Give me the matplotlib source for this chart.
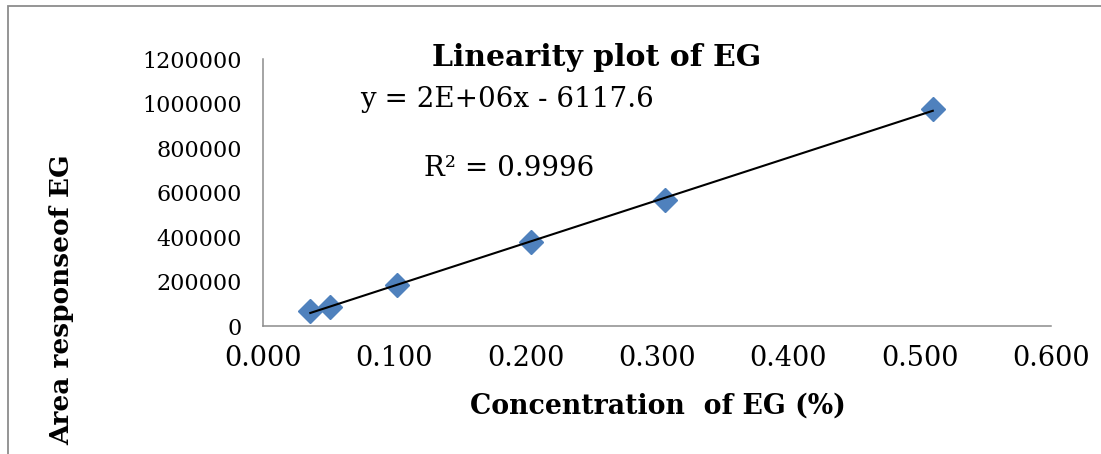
import numpy as np
import matplotlib
matplotlib.use('Agg')
from matplotlib import pyplot as plt
from matplotlib.patches import Rectangle

# EG concentration (%) and peak area response
conc = [0.036, 0.051, 0.102, 0.204, 0.306, 0.510]
area = [67000, 87000, 184000, 377000, 566000, 975000]

x_ticks = [0.0, 0.1, 0.2, 0.3, 0.4, 0.5, 0.6]
y_ticks = [0, 200000, 400000, 600000, 800000, 1000000, 1200000]

plt.rcParams['font.family'] = 'DejaVu Serif'

fig = plt.figure(figsize=(11.01, 4.54), dpi=100)
ax = fig.add_axes([0.2389, 0.2819, 0.7157, 0.588])

# chart border
fig.patches.append(Rectangle((8 / 1101, -0.05), 1.2, 1 - 6 / 454 + 0.05,
                             transform=fig.transFigure, fill=False,
                             edgecolor='#8c8c8c', linewidth=1.3))

ax.plot(conc, area, linestyle='none', marker='D', markersize=12,
        color='#4f81bd', zorder=2)

slope, intercept = np.polyfit(conc, area, 1)
xs = np.array([min(conc), max(conc)])
ax.plot(xs, slope * xs + intercept, color='black', linewidth=1.5, zorder=3)

ax.set_xlim(0, 0.6)
ax.set_ylim(0, 1200000)
ax.set_xticks(x_ticks)
ax.set_yticks(y_ticks)
ax.set_xticklabels(['%.3f' % t for t in x_ticks], fontsize=19.5)
ax.set_yticklabels([str(t) for t in y_ticks], fontsize=16)
ax.tick_params(axis='both', length=0)
ax.tick_params(axis='y', pad=15)
ax.tick_params(axis='x', pad=14)

for side in ['top', 'right']:
    ax.spines[side].set_visible(False)
for side in ['left', 'bottom']:
    ax.spines[side].set_color('#8c8c8c')
    ax.spines[side].set_linewidth(1.1)

fig.text(597 / 1101, 1 - 57 / 454, 'Linearity plot of EG', fontsize=21.5,
         fontweight='heavy', ha='center', va='center')
fig.text(360 / 1101, 1 - 100 / 454, 'y = 2E+06x - 6117.6', fontsize=20,
         ha='left', va='center')
fig.text(424 / 1101, 1 - 168 / 454, 'R² = 0.9996', fontsize=20,
         ha='left', va='center')

fig.text(658 / 1101, 1 - 406 / 454, 'Concentration  of EG (%)', fontsize=19.3,
         fontweight='bold', ha='center', va='center')
fig.text(62 / 1101, 1 - 300 / 454, 'Area responseof EG', fontsize=19,
         fontweight='bold', ha='center', va='center', rotation=90)

fig.savefig('out.png', dpi=100)
